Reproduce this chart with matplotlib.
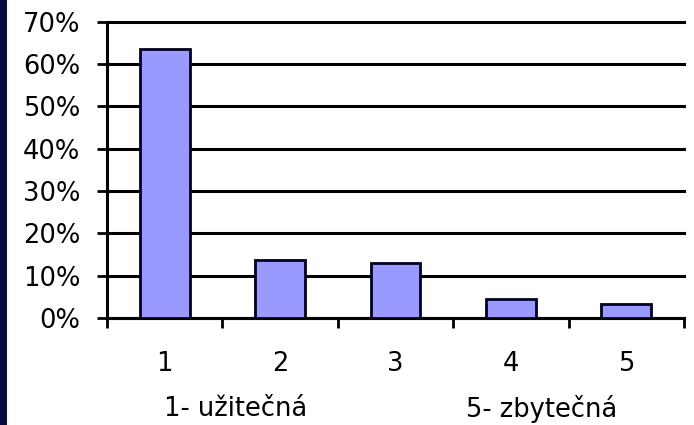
import matplotlib
matplotlib.use("Agg")
import matplotlib.pyplot as plt
from matplotlib.patches import Rectangle
import matplotlib.transforms as mtransforms

categories = ["1", "2", "3", "4", "5"]
values = [63.6, 13.6, 12.9, 4.6, 3.3]
ytick_values = [0, 10, 20, 30, 40, 50, 60, 70]
ytick_labels = ["0%", "10%", "20%", "30%", "40%", "50%", "60%", "70%"]
scale_labels = ["1- užitečná", "5- zbytečná"]

plt.rcParams['font.family'] = ['DejaVu Sans']
FS = 18.5

fig = plt.figure(figsize=(6.94, 4.25), dpi=100)
fig.patch.set_facecolor('white')
ax = fig.add_axes([107/694, 1-318/425, (684-107)/694, (318-21.5)/425])

x = list(range(1, len(categories)+1))
ax.bar(x, values, width=0.43, color='#9999FF', edgecolor='#000020', linewidth=2.0, zorder=3)

ax.set_xlim(0.5, 5.5)
ax.set_ylim(0, 70)
ax.set_yticks(ytick_values)
ax.set_yticklabels(ytick_labels, fontsize=FS)
ax.yaxis.grid(True, color='black', linewidth=2.2, zorder=1)
ax.set_axisbelow(True)
for gl in ax.get_ygridlines():
    gl.set_clip_on(False)

ax.set_xticks([0.5 + i for i in range(len(categories)+1)])
ax.set_xticklabels([])
ax.set_xticks(x, minor=True)
ax.set_xticklabels(categories, minor=True, fontsize=FS)
ax.tick_params(axis='x', which='minor', length=0, pad=24)
ax.tick_params(axis='x', which='major', length=7.2, width=2.0, direction='out', color='black')
ax.tick_params(axis='y', length=7.2, width=2.0, direction='out', pad=12, color='black')

for s in ['top', 'right']:
    ax.spines[s].set_visible(False)
for s in ['left', 'bottom']:
    ax.spines[s].set_linewidth(2.2)
    ax.spines[s].set_color('black')

trans = mtransforms.blended_transform_factory(ax.transData, fig.transFigure)
ax.text(0.99, 1-409/425, scale_labels[0], transform=trans, ha='left', va='center', fontsize=FS)
ax.text(3.61, 1-409/425, scale_labels[1], transform=trans, ha='left', va='center', fontsize=FS)

fig.patches.append(Rectangle((0, 0), 7/694, 1, transform=fig.transFigure,
                             facecolor='#0a0a3a', edgecolor='none', zorder=10))

fig.savefig('out.png', dpi=100)
